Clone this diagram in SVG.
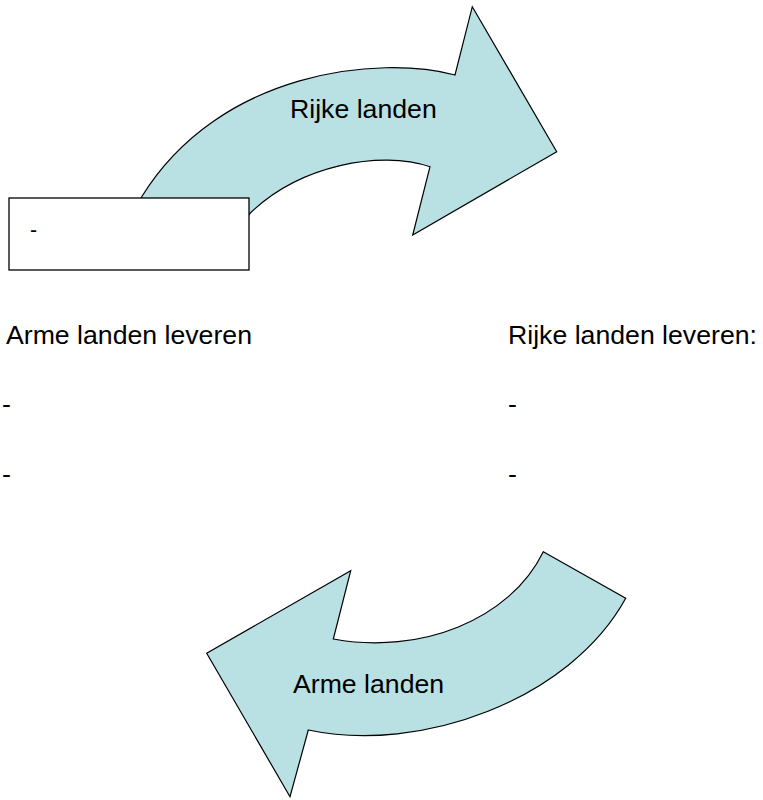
<svg xmlns="http://www.w3.org/2000/svg" width="763" height="800" viewBox="0 0 763 800">
  <style>
    .arrow { fill: #B9E0E3; stroke: #000; stroke-width: 1.2; stroke-linejoin: miter; }
    .box { fill: #fff; stroke: #000; stroke-width: 1.3; }
    text { font-family: "Liberation Sans", Arial, sans-serif; fill: #000; }
    .big { font-size: 26.67px; }
    .small { font-size: 21.3px; }
  </style>
  <rect width="763" height="800" fill="#fff"/>
  <g id="connectors">
    <g id="arrow-rijke">
      <path class="arrow" d="M 126 234 L 141.7 196.7 C 220 70, 380 55, 455 75 L 472.3 6.7 L 556.7 151.7 L 412.7 235 L 430 166.7 C 380 150, 300 165, 250 213.3 L 228 246 Z"/>
      <text class="big" x="290" y="118">Rijke landen</text>
    </g>
    <g id="arrow-arme">
      <path class="arrow" d="M 543.3 551.7 L 625.7 598.3 C 570 700, 420 754, 308.3 730 L 290 796.7 L 206.7 653.3 L 350.7 570.7 L 333.3 639 C 420 655, 510 620, 543.3 551.7 Z"/>
      <text class="big" x="293" y="693">Arme landen</text>
    </g>
  </g>
  <g id="box">
    <rect class="box" x="9" y="198" width="240" height="72"/>
    <text class="small" x="30" y="237">-</text>
  </g>
  <g id="arme-leveren">
    <text class="big" x="6" y="344">Arme landen leveren</text>
    <text class="big" x="2" y="413">-</text>
    <text class="big" x="2" y="483">-</text>
  </g>
  <g id="rijke-leveren">
    <text class="big" x="508" y="344">Rijke landen leveren:</text>
    <text class="big" x="508" y="413">-</text>
    <text class="big" x="508" y="483">-</text>
  </g>
</svg>
